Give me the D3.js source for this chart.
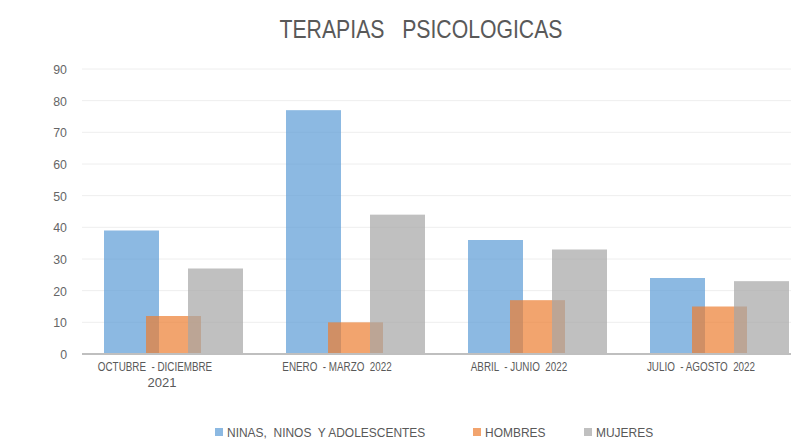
<!DOCTYPE html>
<html><head><meta charset="utf-8">
<script src="https://cdn.jsdelivr.net/npm/d3@7"></script>
<style>body{margin:0;background:#fff}svg{display:block}text{font-family:"Liberation Sans Narrow","Arial Narrow","Liberation Sans",Arial,sans-serif}</style>
</head><body>
<svg id="c" width="791" height="440"></svg>
<script>
const categories = ["OCTUBRE - DICIEMBRE 2021", "ENERO - MARZO 2022", "ABRIL - JUNIO 2022", "JULIO - AGOSTO 2022"];
const categoryLines = [["OCTUBRE  - DICIEMBRE", "2021"], ["ENERO  - MARZO  2022"], ["ABRIL  - JUNIO  2022"], ["JULIO  - AGOSTO  2022"]];
const seriesNames = ["NINAS,  NINOS  Y ADOLESCENTES", "HOMBRES", "MUJERES"];
const ninos = [39, 77, 36, 24];
const hombres = [12, 10, 17, 15];
const mujeres = [27, 44, 33, 23];
const yTicks = [0, 10, 20, 30, 40, 50, 60, 70, 80, 90];
const title = "TERAPIAS   PSICOLOGICAS";

const colors = ["#5B9BD5", "#ED7D31", "#A5A5A5"];
const series = [ninos, hombres, mujeres];

const svg = d3.select("#c");
const x = d3.scaleBand().domain(categories).range([82, 810]).paddingInner(0).paddingOuter(0);
const y = d3.scaleLinear().domain([0, 90]).range([354, 69]);
const barW = 55, step = 42, groupPad = 22;

function condense(sel, f) {
  sel.each(function () {
    const w = this.getComputedTextLength();
    d3.select(this).attr("textLength", w * f).attr("lengthAdjust", "spacingAndGlyphs");
  });
}

// gridlines
svg.append("g").selectAll("line").data(yTicks.filter(d => d > 0)).join("line")
  .attr("x1", 82).attr("x2", 791).attr("y1", d => y(d)).attr("y2", d => y(d))
  .attr("stroke", "#eeeeee").attr("stroke-width", 1);

// y labels
svg.append("g").selectAll("text").data(yTicks).join("text")
  .attr("x", 67).attr("y", d => y(d) + 5).attr("text-anchor", "end")
  .attr("font-size", 13).attr("fill", "#666").text(d => d)
  .call(condense, 0.95);

// bars
series.forEach((vals, si) => {
  svg.append("g").selectAll("rect").data(vals).join("rect")
    .attr("x", (d, i) => x(categories[i]) + groupPad + si * step)
    .attr("y", d => y(d)).attr("width", barW).attr("height", d => y(0) - y(d))
    .attr("fill", colors[si]).attr("fill-opacity", 0.7);
});

// zero axis
svg.append("line").attr("x1", 82).attr("x2", 791).attr("y1", y(0)).attr("y2", y(0))
  .attr("stroke", "#bfbfbf").attr("stroke-width", 2);

// x labels
const xl = svg.append("g");
categories.forEach((c, i) => {
  const cx = x(c) + x.bandwidth() / 2 - 18;
  categoryLines[i].forEach((ln, li) => {
    xl.append("text").attr("x", cx + (li === 1 ? 7 : 0)).attr("y", 371 + li * 16)
      .attr("text-anchor", "middle").attr("font-size", li === 1 ? 13 : 12)
      .attr("fill", "#595959").attr("xml:space", "preserve").text(ln)
      .call(condense, li === 1 ? 1 : 0.82);
  });
});

// title
svg.append("text").attr("x", 421).attr("y", 38).attr("text-anchor", "middle")
  .attr("font-size", 25).attr("fill", "#595959").attr("xml:space", "preserve")
  .text(title).attr("textLength", 283).attr("lengthAdjust", "spacingAndGlyphs");

// legend
const legX = [215, 473, 584];
const lg = svg.append("g");
seriesNames.forEach((n, i) => {
  lg.append("rect").attr("x", legX[i]).attr("y", 428).attr("width", 8).attr("height", 8)
    .attr("fill", colors[i]).attr("fill-opacity", 0.7);
  lg.append("text").attr("x", legX[i] + 12).attr("y", 437).attr("font-size", 13)
    .attr("fill", "#595959").attr("xml:space", "preserve").text(n)
    .call(condense, 0.92);
});
</script>
</body></html>
